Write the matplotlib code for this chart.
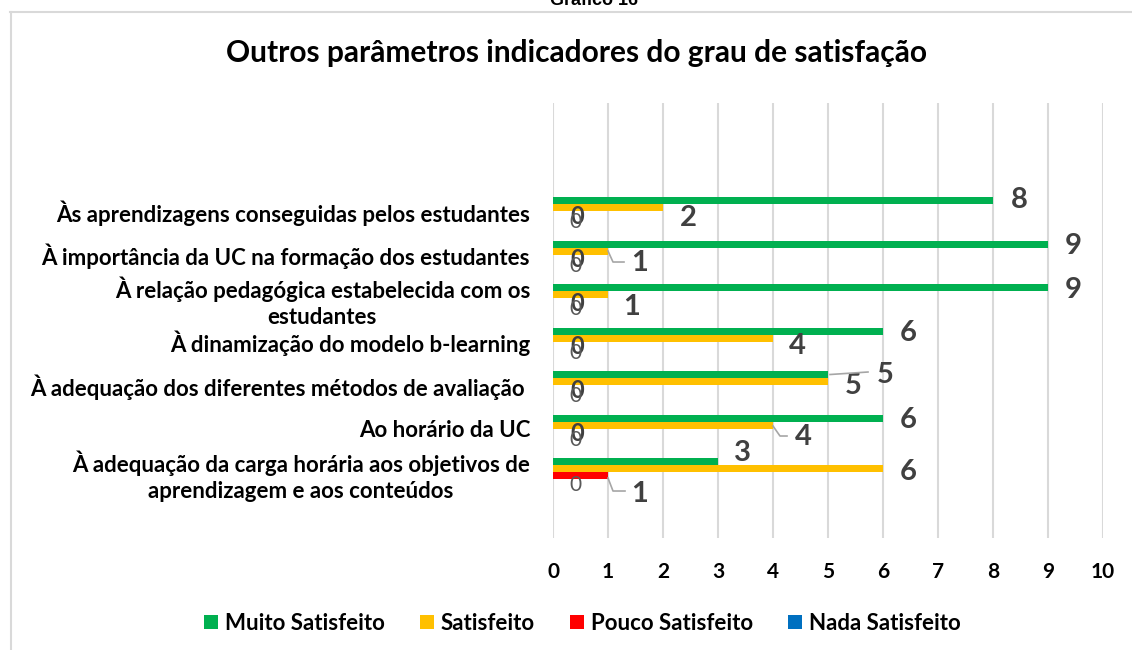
import matplotlib
matplotlib.use("Agg")
import matplotlib.pyplot as plt
import numpy as np
from matplotlib.lines import Line2D
from matplotlib.patches import Patch
from matplotlib.transforms import IdentityTransform

# ---------------- data ----------------
categories = [
    "Às aprendizagens conseguidas pelos estudantes",
    "À importância da UC na formação dos estudantes",
    "À relação pedagógica estabelecida com os\nestudantes",
    "À dinamização do modelo b-learning",
    "À adequação dos diferentes métodos de avaliação ",
    "Ao horário da UC",
    "À adequação da carga horária aos objetivos de\naprendizagem e aos conteúdos",
]
series_names = ["Muito Satisfeito", "Satisfeito", "Pouco Satisfeito", "Nada Satisfeito"]
muito = [8, 9, 9, 6, 5, 6, 3]
satisfeito = [2, 1, 1, 4, 5, 4, 6]
pouco = [0, 0, 0, 0, 0, 0, 1]
nada = [0, 0, 0, 0, 0, 0, 0]
x_ticks = [0, 1, 2, 3, 4, 5, 6, 7, 8, 9, 10]
title = "Outros parâmetros indicadores do grau de satisfação"
caption = "Gráfico 16"

# ---------------- style ----------------
colors = ["#00B050", "#FFC000", "#FF0000", "#0070C0"]
FONT = "Lato"
W, H = 1132, 650
fig = plt.figure(figsize=(W / 100, H / 100), dpi=100)

def fx(px):
    return px / W

def fy(py):
    return 1 - py / H

ax = fig.add_axes([fx(553), fy(538), fx(1103) - fx(553), fy(103) - fy(538)])

n = len(categories)
ypos = np.arange(n)
h = 7 / 43.5
offsets = [-1.5 * h, -0.5 * h, 0.5 * h, 1.5 * h]
all_series = [muito, satisfeito, pouco, nada]

for vals, off, col in zip(all_series, offsets, colors):
    ax.barh(ypos + off, vals, height=h, color=col, zorder=3)

ax.set_xlim(0, 10)
ax.set_ylim(7.517, -2.483)
ax.set_xticks(x_ticks)
ax.set_xticklabels([str(t) for t in x_ticks], fontsize=15, fontweight="bold",
                   family=FONT, color="black")
ax.set_yticks(ypos)
ax.set_yticklabels(categories, fontsize=16, fontweight="bold", family=FONT, color="black")
for t in ax.get_yticklabels():
    t.set_multialignment("center")
    t.set_linespacing(1.3)
ax.tick_params(axis="y", length=0, pad=16.5)
ax.tick_params(axis="x", length=0, pad=17)
ax.grid(axis="x", color="#d9d9d9", lw=1.5, zorder=0)
for s in ax.spines.values():
    s.set_visible(False)

# data label offsets (pixels, from bar end)
lab_off = {
    0: [(26, 0.5), (25, -10.5), (24, -1.5), (22, -0.5)],
    1: [(25, -2), (32, -12), (24, -1), (22, -1)],
    2: [(25, -2.5), (24, -12.5), (24, -1.5), (22, -0.5)],
    3: [(25, -2), (24, -8), (24, -1.5), (22, -0.5)],
    4: [(57, -0.5), (25, -4.5), (24, -1.5), (22, -0.5)],
    5: [(25, -2), (30, -12), (24, -1.5), (22, -0.5)],
    6: [(24, 8.5), (25, -3.5), (32, -18.5), (22, -2.5)],
}
for i in range(n):
    for k, (vals, off) in enumerate(zip(all_series, offsets)):
        v = vals[i]
        dx, dy = lab_off[i][k]
        if k == 3:
            fs, fw, c = 15, "normal", "#595959"
        elif v == 0:
            fs, fw, c = 17, "bold", "#404040"
        else:
            fs, fw, c = 21, "bold", "#404040"
        ax.annotate(str(v), xy=(v, i + off), xytext=(dx, dy), textcoords="offset pixels",
                    ha="center", va="center", fontsize=fs, fontweight=fw, family=FONT,
                    color=c, zorder=5)

# leader lines (pixel offsets from bar end)
leaders = [
    (1, 1, [(0, 0), (5, -11), (16, -11)]),
    (4, 0, [(2, 0), (40, 2.5)]),
    (5, 1, [(0, -1), (7, -11), (14, -11)]),
    (6, 2, [(0, -2.5), (5, -15.5), (17, -15.5)]),
]
for i, k, pts in leaders:
    v = all_series[k][i]
    base = ax.transData.transform((v, i + offsets[k]))
    arr = np.array(pts, dtype=float) + base
    fig.add_artist(Line2D(arr[:, 0], arr[:, 1], transform=IdentityTransform(),
                          color="#a6a6a6", lw=1.2))

# title & caption
fig.text(fx(577), fy(53), title, ha="center", va="center", fontsize=21.5,
         fontweight="bold", family=FONT, color="black")
fig.text(fx(594), fy(5), caption, ha="center", va="baseline", fontsize=13,
         fontweight="bold", family="Liberation Sans", color="black")

# frame
fig.add_artist(Line2D([fx(10.5), fx(10.5)], [fy(12), 0], transform=fig.transFigure,
                      color="#d9d9d9", lw=1.5))
fig.add_artist(Line2D([fx(10), 1], [fy(12), fy(12)], transform=fig.transFigure,
                      color="#d9d9d9", lw=1.5))

# legend
handles = [Patch(facecolor=c, edgecolor="none") for c in colors]
fig.legend(handles, series_names, loc="center", bbox_to_anchor=(fx(582.5), fy(623)),
           ncol=4, frameon=False, prop={"family": FONT, "weight": "bold", "size": 16},
           handlelength=0.6, handleheight=0.6, handletextpad=0.32, columnspacing=1.6)

fig.savefig("out.png", dpi=100)
